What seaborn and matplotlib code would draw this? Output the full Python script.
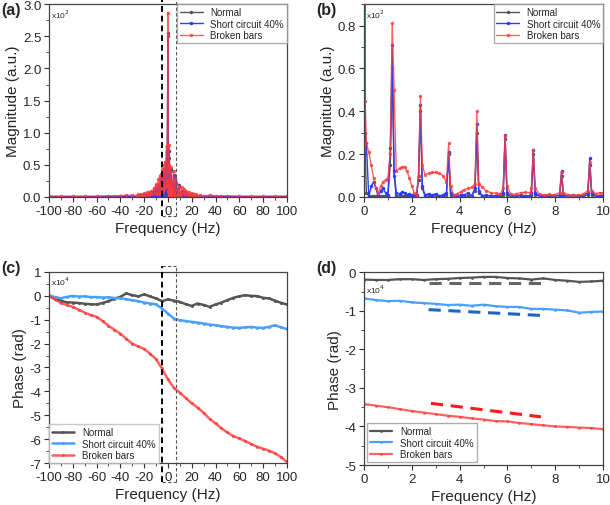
import matplotlib
matplotlib.use('Agg')
import matplotlib.pyplot as plt
import matplotlib.transforms as mtransforms
from matplotlib.ticker import MultipleLocator
import seaborn as sns

sns.set_theme(style='ticks')
plt.rcParams['font.family'] = ['Liberation Sans', 'DejaVu Sans']
plt.rcParams['axes.unicode_minus'] = False

series = ['Normal', 'Short circuit 40%', 'Broken bars']

# ---- (b) magnitude spectrum 0-10 Hz (x10^2) ----
freq_b = [0.0, 0.05, 0.1, 0.2, 0.3, 0.4, 0.5, 0.6, 0.7, 0.8, 0.9, 1.0, 1.1, 1.18, 1.26, 1.35,
          1.5, 1.6, 1.7, 1.8, 1.9, 2.0, 2.1, 2.2, 2.28, 2.36, 2.44, 2.55, 2.7, 2.85, 3.0, 3.15,
          3.3, 3.45, 3.54, 3.62, 3.75, 3.9, 4.05, 4.2, 4.35, 4.5, 4.64, 4.72, 4.8, 4.95, 5.1,
          5.3, 5.5, 5.7, 5.82, 5.9, 5.98, 6.15, 6.35, 6.55, 6.75, 6.95, 7.0, 7.08, 7.16, 7.35,
          7.55, 7.75, 7.95, 8.18, 8.26, 8.34, 8.55, 8.75, 8.95, 9.15, 9.36, 9.44, 9.52, 9.7,
          9.85, 10.0]
mag_broken_b = [2.87, 0.45, 0.25, 0.21, 0.15, 0.09, 0.04, 0.02, 0.05, 0.07, 0.08, 0.09, 0.2, 0.81,
                0.5, 0.12, 0.135, 0.14, 0.14, 0.12, 0.09, 0.05, 0.02, 0.005, 0.1, 0.47, 0.15,
                0.105, 0.11, 0.115, 0.115, 0.11, 0.1, 0.07, 0.25, 0.05, 0.01, 0.015, 0.025,
                0.035, 0.04, 0.045, 0.06, 0.40, 0.06, 0.045, 0.03, 0.02, 0.018, 0.015, 0.04,
                0.285, 0.05, 0.012, 0.015, 0.02, 0.022, 0.02, 0.04, 0.22, 0.04, 0.012, 0.01,
                0.012, 0.01, 0.02, 0.115, 0.02, 0.01, 0.008, 0.01, 0.012, 0.03, 0.165, 0.03,
                0.015, 0.02, 0.02]
mag_short_b = [2.55, 0.3, 0.25, 0.0, 0.05, 0.07, 0.04, 0.0, 0.03, 0.04, 0.02, 0.01, 0.23, 0.71,
               0.12, 0.02, 0.015, 0.025, 0.02, 0.01, 0.015, 0.01, 0.005, 0.01, 0.1, 0.43, 0.05,
               0.01, 0.015, 0.01, 0.015, 0.005, 0.01, 0.02, 0.21, 0.02, 0.005, 0.005, 0.01,
               0.01, 0.02, 0.005, 0.04, 0.34, 0.03, 0.005, 0.01, 0.005, 0.005, 0.01, 0.02,
               0.29, 0.02, 0.005, 0.005, 0.01, 0.005, 0.005, 0.02, 0.22, 0.02, 0.005, 0.005,
               0.005, 0.005, 0.01, 0.12, 0.01, 0.005, 0.01, 0.005, 0.005, 0.02, 0.18, 0.02,
               0.005, 0.005, 0.005]
mag_normal_b = [2.5, 0.2, 0.02, 0.005, 0.005, 0.005, 0.005, 0.005, 0.005, 0.005, 0.005, 0.005,
                0.15, 0.6, 0.1, 0.005, 0.005, 0.005, 0.005, 0.005, 0.005, 0.005, 0.005, 0.005,
                0.08, 0.4, 0.04, 0.005, 0.005, 0.005, 0.005, 0.005, 0.005, 0.01, 0.2, 0.01,
                0.005, 0.005, 0.005, 0.005, 0.005, 0.005, 0.03, 0.3, 0.02, 0.005, 0.005, 0.005,
                0.005, 0.005, 0.01, 0.27, 0.01, 0.005, 0.005, 0.005, 0.005, 0.005, 0.01, 0.2,
                0.01, 0.005, 0.005, 0.005, 0.005, 0.005, 0.1, 0.005, 0.005, 0.005, 0.005, 0.005,
                0.01, 0.15, 0.01, 0.005, 0.005, 0.005]

# ---- (a) full spectrum -100..100 Hz: negative side + (b) + positive tail ----
freq_a_neg = [-100, -90, -80, -70, -60, -50, -45, -40, -35, -30, -27, -25, -24, -23, -22, -20,
              -19, -18, -17, -16, -15, -14, -13, -12, -11, -10.3, -9.44, -8.9, -8.26, -7.7,
              -7.08, -6.5, -5.9, -5.3, -4.72, -4.1, -3.54, -3.0, -2.36, -1.8, -1.18, -0.6]
mag_broken_a_neg = [0.015, 0.015, 0.015, 0.015, 0.015, 0.02, 0.02, 0.02, 0.025, 0.03, 0.02,
                    0.04, 0.02, 0.05, 0.02, 0.06, 0.03, 0.07, 0.03, 0.08, 0.04, 0.1, 0.05,
                    0.14, 0.06, 0.2, 0.17, 0.05, 0.28, 0.04, 0.33, 0.05, 0.36, 0.06, 0.43, 0.1,
                    0.5, 0.12, 0.55, 0.15, 0.8, 0.2]
mag_short_a_neg = [0.005, 0.005, 0.005, 0.005, 0.005, 0.005, 0.005, 0.01, 0.01, 0.01, 0.005,
                   0.02, 0.005, 0.03, 0.005, 0.04, 0.01, 0.05, 0.01, 0.06, 0.01, 0.08, 0.02,
                   0.1, 0.02, 0.15, 0.17, 0.02, 0.12, 0.02, 0.22, 0.02, 0.29, 0.02, 0.34, 0.03,
                   0.42, 0.05, 0.43, 0.05, 0.71, 0.1]
mag_normal_a_neg = [0.003, 0.003, 0.003, 0.003, 0.003, 0.003, 0.003, 0.005, 0.005, 0.005,
                    0.003, 0.01, 0.003, 0.02, 0.003, 0.03, 0.005, 0.04, 0.005, 0.05, 0.005,
                    0.06, 0.01, 0.08, 0.01, 0.12, 0.15, 0.01, 0.1, 0.01, 0.2, 0.01, 0.27, 0.01,
                    0.3, 0.02, 0.38, 0.03, 0.4, 0.03, 0.6, 0.05]
freq_a_pos = [10.6, 11.5, 12.5, 13.5, 14.5, 15.5, 16.5, 17.5, 18.5, 20, 21, 22, 23, 24, 25, 27,
              30, 35, 40, 45, 50, 60, 70, 80, 90, 100]
mag_broken_a_pos = [0.06, 0.15, 0.05, 0.12, 0.04, 0.1, 0.03, 0.08, 0.03, 0.06, 0.02, 0.05,
                    0.02, 0.04, 0.02, 0.03, 0.02, 0.025, 0.02, 0.02, 0.02, 0.015, 0.015,
                    0.015, 0.015, 0.015]
mag_short_a_pos = [0.02, 0.1, 0.01, 0.08, 0.01, 0.06, 0.01, 0.05, 0.01, 0.04, 0.005, 0.03,
                   0.005, 0.02, 0.005, 0.01, 0.005, 0.01, 0.005, 0.005, 0.005, 0.005, 0.005,
                   0.005, 0.005, 0.005]
mag_normal_a_pos = [0.01, 0.08, 0.005, 0.06, 0.005, 0.05, 0.005, 0.04, 0.005, 0.03, 0.003,
                    0.02, 0.003, 0.01, 0.003, 0.005, 0.003, 0.005, 0.003, 0.003, 0.003,
                    0.003, 0.003, 0.003, 0.003, 0.003]

# ---- (c) phase -100..100 Hz (x10^4) ----
freq_c = [-100, -95, -90, -85, -80, -75, -70, -65, -60, -55, -50, -45, -40, -35, -30, -25, -20,
          -15, -10, -5, 0, 5, 10, 15, 20, 25, 30, 35, 40, 45, 50, 55, 60, 65, 70, 75, 80, 85,
          90, 95, 100]
phase_normal_c = [0.0, -0.12, -0.2, -0.27, -0.28, -0.3, -0.33, -0.35, -0.36, -0.3, -0.22,
                  -0.12, -0.04, 0.1, 0.03, -0.02, 0.06, -0.02, -0.11, -0.22, -0.15, -0.2,
                  -0.25, -0.35, -0.42, -0.32, -0.38, -0.46, -0.36, -0.28, -0.18, -0.08, -0.02,
                  0.03, 0.0, -0.01, -0.08, -0.11, -0.2, -0.29, -0.36]
phase_short_c = [0.02, -0.05, -0.1, -0.04, 0.0, -0.03, -0.02, -0.05, -0.05, -0.07, -0.06,
                 -0.09, -0.1, -0.14, -0.18, -0.22, -0.28, -0.32, -0.36, -0.53, -0.74, -0.95,
                 -1.02, -1.05, -1.09, -1.12, -1.16, -1.2, -1.23, -1.27, -1.3, -1.33, -1.34,
                 -1.32, -1.3, -1.33, -1.34, -1.3, -1.23, -1.32, -1.39]
phase_broken_c = [0.0, -0.15, -0.3, -0.38, -0.46, -0.58, -0.7, -0.8, -0.88, -1.05, -1.25,
                  -1.42, -1.58, -1.8, -2.0, -2.12, -2.22, -2.42, -2.65, -3.04, -3.5, -3.85,
                  -4.05, -4.28, -4.5, -4.68, -4.9, -5.15, -5.34, -5.55, -5.72, -5.88, -5.97,
                  -6.08, -6.2, -6.32, -6.4, -6.48, -6.6, -6.75, -6.95]

# ---- (d) phase 0..10 Hz (x10^4) ----
freq_d = [0, 0.5, 1, 1.5, 2, 2.5, 3, 3.5, 4, 4.5, 5, 5.5, 6, 6.5, 7, 7.5, 8, 8.5, 9, 9.5, 10]
phase_normal_d = [-0.19, -0.2, -0.2, -0.18, -0.18, -0.2, -0.18, -0.17, -0.15, -0.14, -0.12,
                  -0.12, -0.15, -0.16, -0.19, -0.16, -0.2, -0.22, -0.25, -0.24, -0.22]
phase_short_d = [-0.68, -0.72, -0.75, -0.74, -0.78, -0.8, -0.82, -0.85, -0.84, -0.87, -0.84,
                 -0.88, -0.9, -0.9, -0.95, -0.95, -0.97, -0.99, -1.05, -1.03, -1.02]
phase_broken_d = [-3.42, -3.46, -3.5, -3.55, -3.6, -3.64, -3.68, -3.72, -3.75, -3.79, -3.82,
                  -3.86, -3.87, -3.91, -3.94, -3.97, -4.0, -4.01, -4.03, -4.04, -4.07]
# trend dashes in (d)
trend_x_normal = [2.7, 7.4]
trend_y_normal = [-0.27, -0.27]
trend_x_short = [2.7, 7.4]
trend_y_short = [-0.97, -1.12]
trend_x_broken = [2.8, 7.4]
trend_y_broken = [-3.4, -3.75]

# dashed zoom box limits in (a) and (c)
box_x = [-4.6, 6.6]

c_gray = '#555555'
c_blue_ab = '#2a3cff'
c_blue_cd = '#4aa0ff'
c_red = '#ff3a3a'

fig = plt.figure(figsize=(6.1, 5.06), dpi=100)
ax_a = fig.add_axes([0.0803, 0.6087, 0.390, 0.381])
ax_b = fig.add_axes([0.5967, 0.6087, 0.392, 0.381])
ax_c = fig.add_axes([0.0803, 0.083, 0.390, 0.3775])
ax_d = fig.add_axes([0.5967, 0.079, 0.392, 0.381])


def style_axis(ax, xlabel, ylabel):
    ax.set_xlabel(xlabel, fontsize=11, labelpad=3)
    ax.set_ylabel(ylabel, fontsize=11, labelpad=2)
    ax.tick_params(which='major', direction='out', length=3.5, width=0.8, labelsize=9.5,
                   color='#333333', pad=2)
    ax.tick_params(which='minor', direction='out', length=2, width=0.6, color='#333333')
    for s in ax.spines.values():
        s.set_color('#444444')
        s.set_linewidth(0.9)


def draw_box(ax, y_low, y_high):
    tr = mtransforms.blended_transform_factory(ax.transData, ax.transAxes)
    ax.plot([box_x[0], box_x[0]], [y_low, y_high], transform=tr, color='black', lw=1.4,
            ls=(0, (3, 2)), clip_on=False, zorder=5)
    ax.plot([box_x[1], box_x[1]], [y_low, y_high], transform=tr, color='#555555', lw=0.8,
            ls=(0, (3, 2)), clip_on=False, zorder=5)
    for yy in (y_low, y_high):
        ax.plot(box_x, [yy, yy], transform=tr, color='#555555', lw=0.8, ls=(0, (3, 2)),
                clip_on=False, zorder=5)


def plot_three(ax, x, ys, colors, ms, lw):
    for name, y, col in zip(series, ys, colors):
        alpha = 0.8 if name == 'Broken bars' else 1.0
        sns.lineplot(x=x, y=y, ax=ax, color=col, label=name, lw=lw, marker='o',
                     markersize=ms, markeredgewidth=0, alpha=alpha, sort=False,
                     estimator=None)


def add_legend(ax, loc, edge, pad):
    ax.legend(loc=loc, fontsize=7, frameon=True, fancybox=False, edgecolor=edge,
              borderpad=0.3, labelspacing=0.15, handlelength=2.3, borderaxespad=pad)


# (a)
freq_a = freq_a_neg + freq_b + freq_a_pos
plot_three(ax_a, freq_a,
           [mag_normal_a_neg + mag_normal_b + mag_normal_a_pos,
            mag_short_a_neg + mag_short_b + mag_short_a_pos,
            mag_broken_a_neg + mag_broken_b + mag_broken_a_pos],
           [c_gray, c_blue_ab, c_red], 2.5, 1.0)
ax_a.set_xlim(-100, 100)
ax_a.set_ylim(0, 3.0)
ax_a.xaxis.set_major_locator(MultipleLocator(20))
ax_a.xaxis.set_minor_locator(MultipleLocator(10))
ax_a.yaxis.set_major_locator(MultipleLocator(0.5))
ax_a.yaxis.set_minor_locator(MultipleLocator(0.25))
ax_a.yaxis.set_major_formatter(plt.FormatStrFormatter('%.1f'))
style_axis(ax_a, 'Frequency (Hz)', 'Magnitude (a.u.)')
draw_box(ax_a, -0.1, 1.025)
ax_a.text(0.01, 0.985, r'x10$^2$', transform=ax_a.transAxes, fontsize=6, va='top')
add_legend(ax_a, 'upper right', '#999999', 0.0)

# (b)
plot_three(ax_b, freq_b, [mag_normal_b, mag_short_b, mag_broken_b],
           [c_gray, c_blue_ab, c_red], 2.5, 1.0)
ax_b.set_xlim(0, 10)
ax_b.set_ylim(0, 0.9)
ax_b.xaxis.set_major_locator(MultipleLocator(2))
ax_b.xaxis.set_minor_locator(MultipleLocator(1))
ax_b.yaxis.set_major_locator(MultipleLocator(0.2))
ax_b.yaxis.set_minor_locator(MultipleLocator(0.1))
ax_b.yaxis.set_major_formatter(plt.FormatStrFormatter('%.1f'))
style_axis(ax_b, 'Frequency (Hz)', 'Magnitude (a.u.)')
ax_b.text(0.01, 0.985, r'x10$^2$', transform=ax_b.transAxes, fontsize=6, va='top')
add_legend(ax_b, 'upper right', '#999999', 0.0)

# (c)
plot_three(ax_c, freq_c, [phase_normal_c, phase_short_c, phase_broken_c],
           [c_gray, c_blue_cd, c_red], 2.2, 1.8)
ax_c.set_xlim(-100, 100)
ax_c.set_ylim(-7, 1)
ax_c.xaxis.set_major_locator(MultipleLocator(20))
ax_c.xaxis.set_minor_locator(MultipleLocator(10))
ax_c.yaxis.set_major_locator(MultipleLocator(1))
ax_c.yaxis.set_minor_locator(MultipleLocator(0.5))
style_axis(ax_c, 'Frequency (Hz)', 'Phase (rad)')
draw_box(ax_c, -0.1, 1.03)
ax_c.text(0.01, 0.985, r'x10$^4$', transform=ax_c.transAxes, fontsize=6, va='top')
add_legend(ax_c, 'lower left', '#bbbbbb', 0.0)

# (d)
plot_three(ax_d, freq_d, [phase_normal_d, phase_short_d, phase_broken_d],
           [c_gray, c_blue_cd, c_red], 2.0, 1.6)
ax_d.plot(trend_x_normal, trend_y_normal, color='#666666', lw=2.2, ls=(0, (4, 2.5)))
ax_d.plot(trend_x_short, trend_y_short, color='#1a66c0', lw=2.2, ls=(0, (4, 2.5)))
ax_d.plot(trend_x_broken, trend_y_broken, color='#ff1a1a', lw=2.2, ls=(0, (4, 2.5)))
ax_d.set_xlim(0, 10)
ax_d.set_ylim(-5, 0)
ax_d.xaxis.set_major_locator(MultipleLocator(2))
ax_d.xaxis.set_minor_locator(MultipleLocator(1))
ax_d.yaxis.set_major_locator(MultipleLocator(1))
ax_d.yaxis.set_minor_locator(MultipleLocator(0.5))
style_axis(ax_d, 'Frequency (Hz)', 'Phase (rad)')
ax_d.text(0.01, 0.945, r'x10$^4$', transform=ax_d.transAxes, fontsize=6, va='top')
add_legend(ax_d, 'lower left', '#999999', 0.3)

# panel letters
for txt, x, y in [('(a)', 0.002, 0.995), ('(b)', 0.518, 0.995),
                  ('(c)', 0.002, 0.485), ('(d)', 0.518, 0.485)]:
    fig.text(x, y, txt, fontsize=11.5, fontweight='bold', va='top', ha='left')

fig.savefig('out.png', dpi=100)
